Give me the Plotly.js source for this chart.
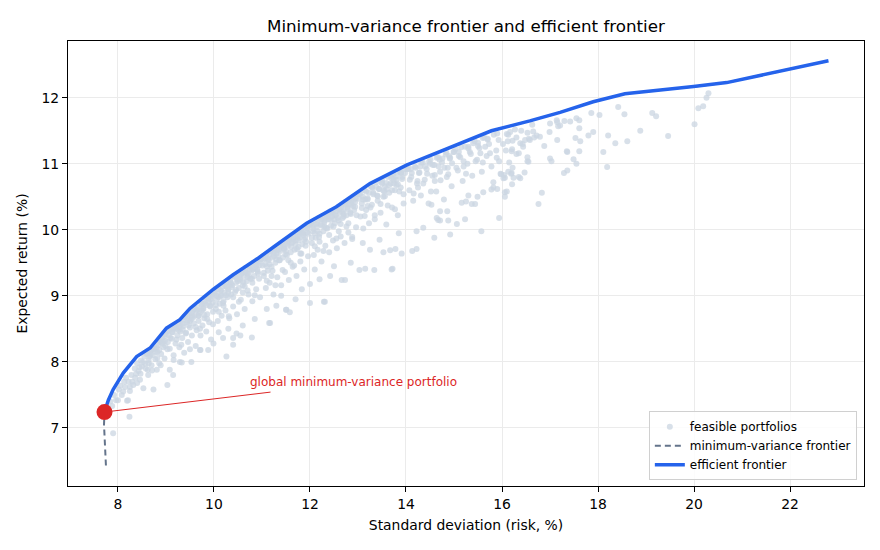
<!DOCTYPE html>
<html>
<head>
<meta charset="utf-8">
<script src="https://cdn.plot.ly/plotly-3.0.1.min.js"></script>
<style>
  html, body { margin: 0; padding: 0; background: #fff; }
  #plot { width: 880px; height: 550px; }
</style>
</head>
<body>
<div id="plot"></div>
<script>
// random portfolios as [risk %, return %]
const portfoliosLowRisk = [
  [7.90,6.92],[7.80,7.31],[7.84,7.40],[7.88,7.33],[7.92,7.50],[7.96,7.42],[8.00,7.42],[8.02,7.58],
  [8.05,7.64],[8.08,7.50],[8.11,7.55],[8.13,7.70],[8.17,7.76],[8.19,7.41],[8.21,7.42],[8.24,7.17],
  [8.25,7.62],[8.28,7.80],[8.30,7.70],[8.32,7.65],[8.35,7.90],[8.38,7.82],[8.40,7.98],[8.43,7.86],
  [8.46,7.73],[8.48,8.02],[8.50,7.93],[8.53,7.60],[8.55,8.08],[8.57,7.97],[8.60,8.12],[8.62,7.88],
  [8.64,8.03],[8.67,8.16],[8.70,7.95],[8.72,8.10],[8.74,7.58],[8.76,8.20],[8.78,8.04],[8.81,7.88],
  [8.82,8.15],[8.84,8.25],[8.86,7.98],[8.88,8.30],[8.90,8.12],[8.92,8.36],[8.95,8.22],[8.97,8.05],
  [8.99,8.42],[8.15,7.62],[8.22,7.70],[8.36,7.76],[8.45,7.92],[8.52,8.00],[8.58,7.90],[8.66,8.08],
  [8.70,8.18],[8.80,8.22],[8.86,8.18],[8.93,8.28],[8.98,8.32],[8.63,7.80],[8.47,7.82],[8.25,7.56],
  [8.40,7.68],
  [9.03,7.65],[9.08,7.88],[9.15,7.80],[9.29,8.00],[9.33,7.99],[9.53,8.00],[9.71,8.18],[9.72,8.18],
  [9.88,8.18],[9.99,8.28],
  [9.02,8.46],[9.04,8.30],[9.06,8.40],[9.08,8.20],[9.10,8.52],[9.12,8.35],[9.14,8.45],[9.16,8.10],
  [9.18,8.56],[9.20,8.28],[9.22,8.50],[9.24,8.40],[9.26,8.58],[9.28,8.22],[9.30,8.46],[9.32,8.62],
  [9.34,8.36],[9.36,8.54],[9.38,8.14],[9.40,8.68],[9.42,8.44],[9.44,8.60],[9.46,8.30],[9.48,8.72],
  [9.50,8.52],[9.52,8.64],[9.54,8.40],[9.56,8.78],[9.58,8.58],[9.60,8.70],[9.62,8.24],[9.64,8.48],
  [9.66,8.82],[9.68,8.62],[9.70,8.74],[9.72,8.40],[9.74,8.88],[9.76,8.55],[9.78,8.80],[9.80,8.66],
  [9.82,8.92],[9.84,8.46],[9.86,8.72],[9.88,8.96],[9.90,8.60],[9.92,8.84],[9.94,8.34],[9.96,9.02],
  [9.98,8.76],[9.15,8.50],[9.27,8.52],[9.45,8.70],[9.55,8.70],[9.63,8.78],[9.75,8.78],[9.85,8.86],
  [9.93,8.95],[9.35,8.58],[9.50,8.62],[9.68,8.70],[9.80,8.88],[9.90,9.00],[9.97,8.90]
];

const portfoliosMidRisk = [
  [10.19,8.36],[10.26,8.08],[10.40,8.26],[10.40,8.36],[10.47,8.43],[10.79,8.37],[10.30,8.50],[10.60,8.55],
  [10.85,8.65],[10.10,8.45],[10.55,8.40],
  [10.02,9.06],[10.04,8.80],[10.06,8.95],[10.08,8.62],[10.10,9.10],[10.12,8.88],[10.14,9.00],[10.16,8.70],
  [10.18,9.14],[10.20,8.92],[10.22,9.05],[10.24,8.78],[10.26,9.20],[10.28,8.98],[10.30,9.10],[10.32,8.66],
  [10.34,9.24],[10.36,9.02],[10.38,9.16],[10.40,8.84],[10.42,9.30],[10.44,9.06],[10.46,9.20],[10.48,8.72],
  [10.50,9.34],[10.52,9.12],[10.54,9.26],[10.56,8.94],[10.58,9.38],[10.60,9.16],[10.62,9.30],[10.64,8.80],
  [10.66,9.42],[10.68,9.22],[10.70,9.34],[10.72,9.02],[10.74,9.46],[10.76,9.26],[10.78,9.38],[10.80,8.92],
  [10.82,9.50],[10.84,9.30],[10.86,9.42],[10.88,9.10],[10.90,9.54],[10.92,9.34],[10.94,9.46],[10.96,8.98],
  [10.98,9.56],[10.05,9.00],[10.15,9.08],[10.25,9.14],[10.35,9.18],[10.45,9.28],[10.55,9.32],[10.65,9.36],
  [10.75,9.40],[10.85,9.48],[10.95,9.52],[10.10,8.98],[10.30,9.05],[10.50,9.22],[10.70,9.28],[10.90,9.40],
  [10.20,8.85],[10.60,9.05],[10.80,9.20],
  [11.15,8.59],[11.17,8.59],[11.51,8.79],[11.50,8.79],[11.58,8.75],[11.83,9.10],[12.00,8.89],[12.00,9.18],
  [11.30,8.85],[11.70,8.95],[11.40,9.00],[11.10,8.80],
  [11.02,9.60],[11.04,9.30],[11.06,9.48],[11.08,9.12],[11.10,9.64],[11.12,9.38],[11.14,9.54],[11.16,9.20],
  [11.18,9.68],[11.20,9.44],[11.22,9.58],[11.24,9.02],[11.26,9.72],[11.28,9.50],[11.30,9.64],[11.32,9.28],
  [11.34,9.76],[11.36,9.54],[11.38,9.68],[11.40,9.16],[11.42,9.80],[11.44,9.58],[11.46,9.72],[11.48,9.36],
  [11.50,9.84],[11.52,9.62],[11.54,9.76],[11.56,9.24],[11.58,9.88],[11.60,9.66],[11.62,9.80],[11.64,9.44],
  [11.66,9.92],[11.68,9.70],[11.70,9.84],[11.72,9.30],[11.74,9.96],[11.76,9.74],[11.78,9.88],[11.80,9.52],
  [11.82,10.00],[11.84,9.78],[11.86,9.92],[11.88,9.40],[11.90,10.04],[11.92,9.82],[11.94,9.96],[11.96,9.60],
  [11.98,10.08],[11.05,9.56],[11.15,9.62],[11.25,9.66],[11.35,9.70],[11.45,9.76],[11.55,9.82],[11.65,9.86],
  [11.75,9.90],[11.85,9.96],[11.95,10.02],[11.10,9.45],[11.30,9.55],[11.50,9.68],[11.70,9.78],[11.90,9.88],
  [11.20,9.30],[11.60,9.50],[11.80,9.64],
  [12.29,8.91],[12.31,8.91],[12.42,9.30],[12.66,9.24],[12.73,9.24],[12.20,9.25],[12.50,9.45],[12.85,9.50],
  [12.10,9.40],
  [12.02,10.10],[12.04,9.80],[12.06,9.98],[12.08,9.62],[12.10,10.14],[12.12,9.88],[12.14,10.04],[12.16,9.70],
  [12.18,10.18],[12.20,9.94],[12.22,10.08],[12.24,9.52],[12.26,10.20],[12.28,9.98],[12.30,10.12],[12.32,9.76],
  [12.34,10.24],[12.36,10.02],[12.38,10.16],[12.40,9.66],[12.42,10.28],[12.44,10.06],[12.46,10.20],[12.48,9.84],
  [12.50,10.30],[12.52,10.10],[12.54,10.22],[12.56,9.72],[12.58,10.34],[12.60,10.14],[12.62,10.26],[12.64,9.90],
  [12.66,10.38],[12.68,10.18],[12.70,10.30],[12.72,9.80],[12.74,10.42],[12.76,10.22],[12.78,10.34],[12.80,9.96],
  [12.82,10.46],[12.84,10.26],[12.86,10.38],[12.88,9.86],[12.90,10.50],[12.92,10.30],[12.94,10.42],[12.96,10.04],
  [12.98,10.54],[12.05,10.06],[12.15,10.10],[12.25,10.16],[12.35,10.20],[12.45,10.24],[12.55,10.28],[12.65,10.34],
  [12.75,10.38],[12.85,10.44],[12.95,10.48],[12.10,9.95],[12.30,10.05],[12.50,10.16],[12.70,10.24],[12.90,10.36],
  [12.20,9.82],[12.60,9.98],[12.80,10.10]
];

const portfoliosHighRisk = [
  [13.03,9.39],[13.15,9.41],[13.34,9.39],[13.72,9.41],[13.53,9.66],[13.67,9.69],[13.78,9.71],[13.91,9.64],
  [13.70,9.40],[13.25,9.70],[13.45,9.85],[13.10,9.80],[13.85,9.95],
  [13.02,10.54],[13.05,10.20],[13.08,10.40],[13.11,10.02],[13.14,10.60],[13.17,10.30],[13.20,10.48],[13.23,10.10],
  [13.26,10.66],[13.29,10.38],[13.32,10.56],[13.35,10.16],[13.38,10.72],[13.41,10.44],[13.44,10.62],[13.47,10.26],
  [13.50,10.76],[13.53,10.50],[13.56,10.66],[13.59,10.08],[13.62,10.80],[13.65,10.56],[13.68,10.70],[13.71,10.34],
  [13.74,10.84],[13.77,10.60],[13.80,10.76],[13.83,10.22],[13.86,10.88],[13.89,10.64],[13.92,10.80],[13.95,10.40],
  [13.98,10.92],[13.10,10.50],[13.30,10.64],[13.50,10.70],[13.70,10.78],[13.90,10.86],[13.20,10.36],[13.40,10.52],
  [13.60,10.62],[13.80,10.68],[13.15,10.46],[13.55,10.58],[13.75,10.70],
  [14.13,9.68],[14.22,9.71],[14.59,9.88],[14.22,9.98],[14.36,10.03],[14.67,10.15],[14.71,10.28],[14.53,10.38],
  [14.92,9.93],[14.71,10.14],[14.88,10.14],[14.64,10.18],[14.86,10.28],
  [14.03,10.92],[14.07,10.60],[14.11,10.80],[14.15,10.44],[14.19,10.96],[14.23,10.70],[14.27,10.86],[14.31,10.52],
  [14.35,11.02],[14.39,10.76],[14.43,10.92],[14.47,10.40],[14.51,11.06],[14.55,10.82],[14.59,10.98],[14.63,10.58],
  [14.67,11.10],[14.71,10.88],[14.75,11.02],[14.79,10.46],[14.83,11.14],[14.87,10.94],[14.91,11.08],[14.95,10.66],
  [14.99,11.18],[14.10,10.92],[14.30,10.96],[14.50,11.00],[14.70,11.06],[14.90,11.12],[14.25,10.64],[14.60,10.74],
  [14.85,10.80],
  [15.06,10.09],[15.23,10.16],[15.57,9.98],[15.94,10.18],[15.37,10.39],[15.44,10.39],[15.16,10.41],[15.25,10.43],
  [15.30,10.52],[15.49,10.50],[15.61,10.57],[15.82,10.64],[15.82,10.72],[15.90,10.62],[15.78,10.61],[15.89,11.09],
  [15.94,11.04],
  [15.03,11.22],[15.08,10.90],[15.13,11.10],[15.18,10.74],[15.23,11.26],[15.28,11.00],[15.33,11.18],[15.38,10.82],
  [15.43,11.34],[15.48,11.06],[15.53,11.24],[15.58,10.88],[15.63,11.40],[15.68,11.12],[15.73,11.30],[15.78,10.96],
  [15.83,11.44],[15.88,11.20],[15.93,11.36],[15.98,10.84],[15.10,11.18],[15.30,11.26],[15.50,11.32],[15.70,11.38],
  [15.90,11.46],[15.20,10.96],[15.60,11.02],
  [16.06,10.79],[16.24,10.79],[16.21,10.69],[16.35,10.80],[16.19,10.85],[16.22,10.94],[16.83,10.56],[16.76,10.39],
  [16.06,10.57],[16.06,10.50],[16.03,10.78],[15.97,10.85],[16.10,10.58],[16.38,10.78],[16.47,10.87],[16.20,10.86],
  [16.53,11.04],[16.15,11.02],[16.55,11.03],[16.53,11.10],[17.00,11.08],[17.03,11.04],[16.88,11.27],[16.79,11.41],
  [16.58,11.36],[16.65,11.49],[16.27,11.52],[16.38,11.31],[16.20,11.19],[16.04,10.83],[16.13,10.88],[16.17,11.48],
  [16.13,11.44],[16.10,11.45],[16.22,11.35],[16.21,11.22],[16.35,11.16],[16.30,11.15],[16.44,11.26],[16.43,11.30],
  [16.53,11.47],[16.56,11.38],[16.63,11.59],[16.67,11.40],[16.72,11.43],[16.99,11.48],[17.00,11.61],[17.15,11.36],
  [17.15,11.63],[17.17,11.57],[17.14,11.66],[17.42,11.64],[16.02,11.30],[16.08,11.20],[16.12,11.34],[16.30,11.40],
  [16.40,11.50],[16.48,11.36],
  [17.21,11.58],[17.30,11.65],[17.36,11.18],[17.29,10.86],[17.36,10.90],[17.49,11.07],[17.55,11.00],[17.53,11.39],
  [17.55,11.69],[17.61,11.66],[17.61,11.54],[17.63,11.34],[17.61,11.19],[17.80,11.43],[17.86,11.77],[17.90,11.48],
  [18.03,11.74],[18.11,11.18],[18.19,10.95],[18.21,11.43],[18.36,11.31],[18.42,11.86],[18.55,11.75],[18.61,11.34],
  [18.88,11.50],[19.13,11.77],[19.21,11.72],[19.46,11.42],[20.01,11.60],[20.09,11.84],[20.19,11.87],[20.26,12.00],
  [20.30,12.07],[17.35,11.19]
];

// the crowded strip just under the efficient frontier
const portfoliosDenseBand = [
  [8.61,8.13],[8.64,7.98],[8.68,8.11],[8.71,7.87],[8.75,8.20],[8.79,8.15],[8.82,8.06],[8.85,8.33],
  [8.89,7.95],[8.93,8.30],[8.96,8.38],[8.99,8.24],
  [9.03,8.19],[9.06,8.48],[9.09,8.36],[9.13,8.45],[9.16,8.03],[9.19,8.53],[9.22,8.34],[9.26,8.48],
  [9.29,8.54],[9.32,8.26],[9.35,8.49],[9.38,8.68],[9.41,8.43],[9.44,8.63],[9.47,8.55],[9.50,8.19],
  [9.53,8.74],[9.56,8.67],[9.59,8.81],[9.62,8.53],[9.65,8.79],[9.68,8.70],[9.71,8.50],[9.74,8.87],
  [9.77,8.81],[9.80,8.71],[9.83,8.97],[9.86,8.65],[9.89,8.91],[9.92,8.85],[9.95,8.99],[9.98,8.57],
  [10.01,9.05],[10.04,8.86],[10.07,9.00],[10.10,8.76],[10.13,9.08],[10.16,9.00],[10.19,8.89],[10.22,9.17],
  [10.25,9.01],[10.28,9.13],[10.31,8.69],[10.34,9.21],[10.37,9.13],[10.40,8.98],[10.43,9.29],[10.46,9.09],
  [10.49,9.25],[10.52,8.91],[10.55,9.24],[10.58,9.34],[10.61,9.21],[10.64,9.14],[10.67,9.35],[10.70,9.08],
  [10.73,9.30],[10.76,9.44],[10.79,9.26],[10.82,9.40],[10.85,9.01],[10.88,9.46],[10.91,9.37],[10.94,9.26],
  [10.97,9.55],
  [11.01,9.46],[11.04,9.35],[11.07,9.57],[11.10,9.23],[11.13,9.56],[11.16,9.48],[11.19,9.67],[11.22,9.38],
  [11.25,9.60],[11.28,9.16],[11.31,9.69],[11.34,9.60],[11.37,9.54],[11.40,9.76],[11.43,9.39],[11.46,9.71],
  [11.49,9.63],[11.52,9.79],[11.55,9.54],[11.58,9.87],[11.61,9.74],[11.64,9.82],[11.67,9.46],[11.70,9.90],
  [11.73,9.71],[11.76,9.84],[11.79,9.97],[11.82,9.64],[11.85,9.95],[11.88,9.85],[11.91,9.76],[11.94,10.03],
  [11.97,9.94],
  [12.01,10.08],[12.04,9.88],[12.07,10.02],[12.10,9.75],[12.13,10.09],[12.16,9.98],[12.19,9.89],[12.22,10.16],
  [12.25,10.06],[12.28,9.68],[12.31,10.14],[12.34,10.03],[12.37,10.20],[12.40,9.92],[12.43,10.15],[12.46,10.27],
  [12.49,10.05],[12.52,10.22],[12.55,9.87],[12.58,10.18],[12.61,10.31],[12.64,10.09],[12.67,10.27],[12.70,10.20],
  [12.73,10.39],[12.76,10.05],[12.79,10.31],[12.82,10.39],[12.85,10.24],[12.88,9.89],[12.91,10.45],[12.94,10.35],
  [12.97,10.22],
  [13.02,10.47],[13.05,10.55],[13.08,10.33],[13.11,10.46],[13.14,10.21],[13.17,10.58],[13.20,10.46],[13.23,10.56],
  [13.26,10.34],[13.29,10.65],[13.32,10.54],[13.35,10.22],[13.38,10.65],[13.41,10.51],[13.44,10.62],[13.47,10.39],
  [13.50,10.72],[13.53,10.59],[13.56,10.51],[13.59,10.71],[13.62,10.37],[13.65,10.68],[13.68,10.82],[13.71,10.60],
  [13.74,10.75],[13.77,10.31],[13.80,10.81],[13.83,10.69],[13.86,10.58],[13.89,10.87],[13.92,10.77],[13.95,10.54],
  [13.98,10.86],
  [14.04,10.92],[14.08,10.76],[14.12,10.86],[14.16,10.55],[14.20,10.94],[14.24,10.74],[14.28,10.87],[14.32,11.02],
  [14.36,10.70],[14.40,10.96],[14.44,10.85],[14.48,11.03],[14.52,10.58],[14.56,10.98],[14.60,10.83],[14.64,11.09],
  [14.68,10.96],[14.72,10.75],[14.76,11.08],[14.80,10.94],[14.84,11.17],[14.88,10.84],[14.92,11.09],[14.96,11.01],
  [15.00,11.18],[15.05,10.94],[15.10,11.12],[15.15,11.25],[15.20,11.04],[15.25,10.85],[15.30,11.23],[15.35,11.15],
  [15.40,11.31],[15.45,11.04],[15.50,11.27],[15.55,11.16],[15.60,11.39],[15.65,11.26],[15.70,11.37],[15.75,11.16]
];

// efficient frontier (upper branch)
const efficientRisk   = [7.72, 7.80, 7.90, 8.11, 8.39, 8.67, 9.01, 9.29, 9.50, 9.99, 10.40, 10.92, 11.30, 11.93,
                         12.55, 13.25, 14.01, 14.71, 15.78, 16.58, 17.21, 17.90, 18.56, 19.99, 20.68, 22.80];
const efficientReturn = [7.24, 7.42, 7.58, 7.83, 8.08, 8.21, 8.51, 8.64, 8.81, 9.10, 9.32, 9.57, 9.77, 10.10,
                         10.35, 10.70, 10.98, 11.19, 11.50, 11.65, 11.78, 11.94, 12.06, 12.17, 12.23, 12.56];

// lower (inefficient) branch of the minimum-variance frontier
const lowerRisk   = [7.75, 7.74, 7.72, 7.71, 7.72];
const lowerReturn = [6.43, 6.65, 6.85, 7.05, 7.24];

const gmvRisk = 7.72;
const gmvReturn = 7.24;

const allPortfolios = [...portfoliosLowRisk, ...portfoliosMidRisk, ...portfoliosHighRisk, ...portfoliosDenseBand];

const font = 'DejaVu Sans, sans-serif';

const traces = [
    {
        x: allPortfolios.map(p => p[0]),
        y: allPortfolios.map(p => p[1]),
        type: 'scatter', mode: 'markers', name: 'feasible portfolios',
        marker: { color: '#cbd5e1', size: 6, opacity: 0.75, line: { width: 0 } }
    },
    {
        // full frontier: lower branch, then up along the efficient part
        x: lowerRisk.concat(efficientRisk.slice(1)),
        y: lowerReturn.concat(efficientReturn.slice(1)),
        type: 'scatter', mode: 'lines', name: 'minimum-variance frontier',
        line: { color: '#64748b', width: 2, dash: '6px,4px' }
    },
    {
        x: efficientRisk, y: efficientReturn,
        type: 'scatter', mode: 'lines', name: 'efficient frontier',
        line: { color: '#2563eb', width: 3.5 }
    },
    {
        x: [gmvRisk], y: [gmvReturn],
        type: 'scatter', mode: 'markers', showlegend: false,
        marker: { color: '#dc2626', size: 16 }
    }
];

const axisBase = {
    showline: true, mirror: true, linecolor: '#000', linewidth: 1,
    ticks: 'outside', ticklen: 5, tickwidth: 1, tickcolor: '#000',
    showgrid: true, gridcolor: '#ebebeb', gridwidth: 1, zeroline: false,
    tickfont: { family: font, size: 13.9, color: '#000' }
};

const layout = {
    width: 880, height: 550,
    paper_bgcolor: '#fff', plot_bgcolor: '#fff',
    font: { family: font, color: '#000' },
    margin: { t: 41, r: 16, b: 64, l: 68 },
    title: {
        text: 'Minimum-variance frontier and efficient frontier',
        font: { family: font, size: 16.7, color: '#000' },
        x: 0.5295, xanchor: 'center', y: 0.953, yanchor: 'middle'
    },
    xaxis: {
        ...axisBase, range: [6.96, 23.54], tick0: 0, dtick: 2,
        title: { text: 'Standard deviation (risk, %)', font: { family: font, size: 13.9 }, standoff: 9 }
    },
    yaxis: {
        ...axisBase, range: [6.12, 12.86], tick0: 0, dtick: 1,
        title: { text: 'Expected return (%)', font: { family: font, size: 13.9 }, standoff: 10 }
    },
    showlegend: true,
    legend: {
        x: 0.991, y: 0.013, xanchor: 'right', yanchor: 'bottom',
        bgcolor: 'rgba(255,255,255,0.85)', bordercolor: '#d0d0d0', borderwidth: 1,
        font: { family: font, size: 12, color: '#000' },
        itemwidth: 30, tracegroupgap: 0
    },
    annotations: [
        {
            x: gmvRisk, y: gmvReturn, ax: 11.21, ay: 7.545, axref: 'x', ayref: 'y',
            text: '', showarrow: true, arrowhead: 0, arrowwidth: 1, arrowcolor: '#dc2626', standoff: 6
        },
        {
            x: 10.70, y: 7.70, xanchor: 'left', yanchor: 'middle', showarrow: false,
            text: 'global minimum-variance portfolio',
            font: { family: font, size: 12, color: '#dc2626' }
        }
    ]
};

Plotly.newPlot('plot', traces, layout, { displayModeBar: false, staticPlot: true });
</script>
</body>
</html>
